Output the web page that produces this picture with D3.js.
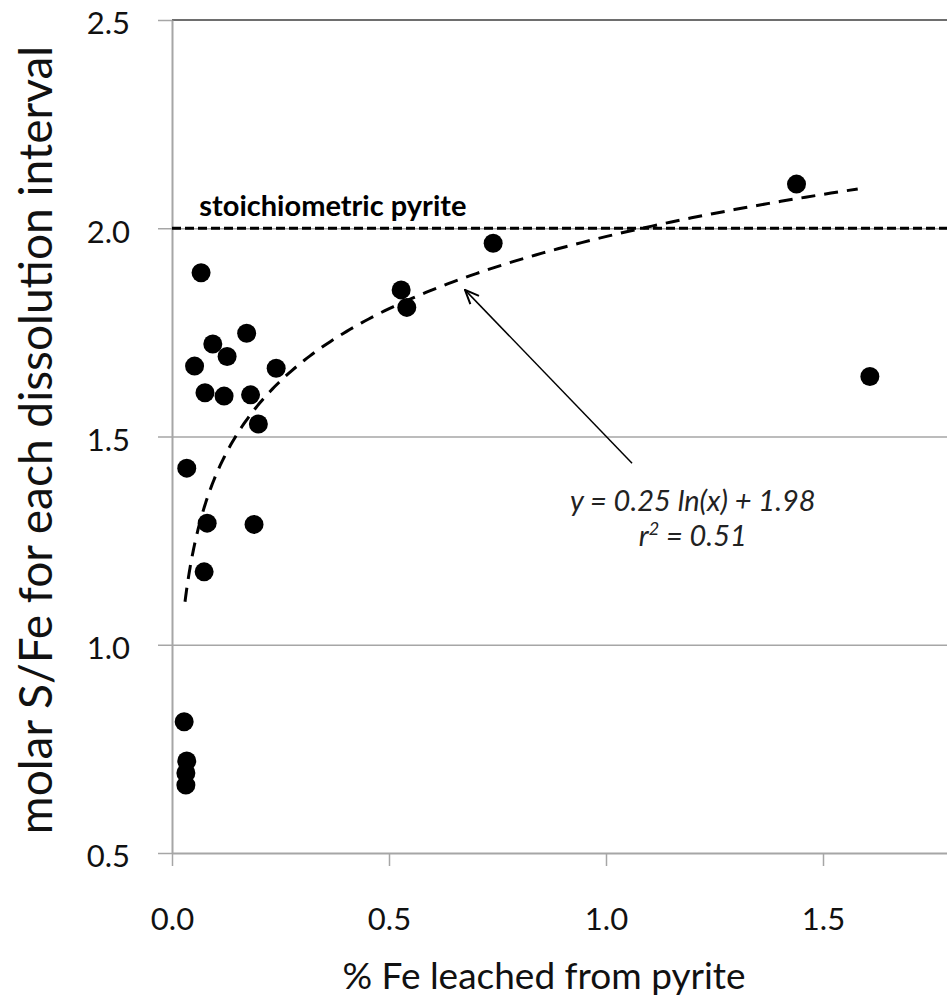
<!DOCTYPE html>
<html>
<head>
<meta charset="utf-8">
<script src="https://cdn.jsdelivr.net/npm/d3@7"></script>
<style>
  body { margin: 0; background: #fff; }
  svg { display: block; }
</style>
</head>
<body>
<div id="viz"></div>
<script>
// values
var feLeached = [0.028, 0.034, 0.032, 0.032, 0.067, 0.172, 0.094, 0.127, 0.052, 0.240,
                 0.076, 0.120, 0.181, 0.199, 0.034, 0.081, 0.189, 0.074, 0.528, 0.541,
                 0.740, 1.439, 1.608];
var sFeRatio  = [0.815, 0.721, 0.692, 0.663, 1.893, 1.748, 1.722, 1.692, 1.669, 1.664,
                 1.605, 1.597, 1.600, 1.530, 1.424, 1.292, 1.289, 1.175, 1.852, 1.810,
                 1.964, 2.106, 1.644];
var xTicks = [0.0, 0.5, 1.0, 1.5];
var yTicks = [0.5, 1.0, 1.5, 2.0, 2.5];
var gridTicks = [1.0, 1.5, 2.0];
var pyriteRatio = 2.0;
// log fit shown on the chart: y = 0.25 ln(x) + 1.98
var fitSlope = 0.25, fitIntercept = 1.98;
var fitFrom = 0.03, fitTo = 1.58;

// set the dimensions and margins of the graph
var margin = { top: 20, right: 0, bottom: 145, left: 172 },
    width = 868,
    height = 998 - margin.top - margin.bottom;

var svg = d3.select("#viz")
    .append("svg")
    .attr("width", 947)
    .attr("height", 998)
    .style("overflow", "hidden")
    .append("g")
    .attr("transform", "translate(" + margin.left + "," + margin.top + ")");

var x = d3.scaleLinear().domain([0, 2]).range([0, width]);
var y = d3.scaleLinear().domain([0.5, 2.5]).range([height, 0]);

var fontMain = "Lato, 'Open Sans', sans-serif";

// horizontal gridlines
svg.append("g")
    .call(d3.axisLeft(y).tickValues(gridTicks).tickSize(-width).tickFormat(""))
    .call(function (g) { g.select(".domain").remove(); })
    .selectAll("line")
    .attr("stroke", "#a6a6a6")
    .attr("stroke-width", 1.5);

// top border
svg.append("line")
    .attr("x1", 0).attr("x2", width)
    .attr("y1", y(2.5)).attr("y2", y(2.5))
    .attr("stroke", "#6e6e6e")
    .attr("stroke-width", 2);

// Y axis
var yAxis = svg.append("g")
    .call(d3.axisLeft(y).tickValues(yTicks).tickSize(14).tickSizeOuter(0).tickPadding(28)
        .tickFormat(d3.format(".1f")));
yAxis.select(".domain").attr("stroke", "#a6a6a6").attr("stroke-width", 2);
yAxis.selectAll("line").attr("stroke", "#a6a6a6").attr("stroke-width", 1.5);
yAxis.selectAll("text")
    .attr("dy", "0.45em")
    .style("font-family", fontMain)
    .style("font-size", "31px")
    .attr("fill", "#111");

// X axis
var xAxis = svg.append("g")
    .attr("transform", "translate(0," + height + ")")
    .call(d3.axisBottom(x).tickValues(xTicks).tickSize(13).tickSizeOuter(0).tickPadding(42)
        .tickFormat(d3.format(".1f")));
xAxis.select(".domain").attr("stroke", "#a6a6a6").attr("stroke-width", 2);
xAxis.selectAll("line").attr("stroke", "#a6a6a6").attr("stroke-width", 1.5);
xAxis.selectAll("text")
    .style("font-family", fontMain)
    .style("font-size", "31px")
    .attr("fill", "#111");

// X axis label
svg.append("text")
    .attr("text-anchor", "middle")
    .attr("x", 544 - margin.left)
    .attr("y", height + 136)
    .style("font-family", fontMain)
    .style("font-size", "37px")
    .attr("fill", "#111")
    .text("% Fe leached from pyrite");

// Y axis label
svg.append("text")
    .attr("text-anchor", "middle")
    .attr("transform", "rotate(-90)")
    .attr("x", -(440 - margin.top))
    .attr("y", -margin.left + 52)
    .style("font-family", fontMain)
    .style("font-size", "46px")
    .attr("fill", "#111")
    .text("molar S/Fe for each dissolution interval");

// stoichiometric pyrite line
svg.append("line")
    .attr("x1", 0).attr("x2", width)
    .attr("y1", y(pyriteRatio)).attr("y2", y(pyriteRatio))
    .attr("stroke", "#000")
    .attr("stroke-width", 3)
    .attr("stroke-dasharray", "9,4");

svg.append("text")
    .attr("x", x(0.063))
    .attr("y", y(pyriteRatio) - 12)
    .style("font-family", fontMain)
    .style("font-size", "29px")
    .style("font-weight", "bold")
    .attr("fill", "#000")
    .text("stoichiometric pyrite");

// log trend line
var fitPts = d3.range(0, 201).map(function (i) {
    var xv = fitFrom * Math.pow(fitTo / fitFrom, i / 200);
    return [xv, fitSlope * Math.log(xv) + fitIntercept];
});
svg.append("path")
    .datum(fitPts)
    .attr("fill", "none")
    .attr("stroke", "#000")
    .attr("stroke-width", 3)
    .attr("stroke-dasharray", "14,9")
    .attr("d", d3.line()
        .x(function (d) { return x(d[0]); })
        .y(function (d) { return y(d[1]); }));

// the points
svg.selectAll("circle.pt")
    .data(feLeached)
    .enter()
    .append("circle")
    .attr("class", "pt")
    .attr("cx", function (d) { return x(d); })
    .attr("cy", function (d, i) { return y(sFeRatio[i]); })
    .attr("r", 9.5)
    .attr("fill", "#000");

// arrow to the trend line
var arrowTip = [0.675, 1.852], arrowTail = [1.06, 1.436];
svg.append("defs").append("marker")
    .attr("id", "head")
    .attr("viewBox", "0 0 16 16")
    .attr("refX", 15).attr("refY", 8)
    .attr("markerWidth", 16).attr("markerHeight", 16)
    .attr("markerUnits", "userSpaceOnUse")
    .attr("orient", "auto-start-reverse")
    .append("path")
    .attr("d", "M1,2 L15,8 L1,14")
    .attr("fill", "none")
    .attr("stroke", "#000")
    .attr("stroke-width", 2);

svg.append("line")
    .attr("x1", x(arrowTip[0])).attr("y1", y(arrowTip[1]))
    .attr("x2", x(arrowTail[0])).attr("y2", y(arrowTail[1]))
    .attr("stroke", "#000")
    .attr("stroke-width", 1.5)
    .attr("marker-start", "url(#head)");

// equation label
svg.append("text")
    .attr("text-anchor", "middle")
    .attr("x", x(1.2))
    .attr("y", y(1.32))
    .style("font-family", fontMain)
    .style("font-size", "29px")
    .style("font-style", "italic")
    .attr("fill", "#222")
    .text("y = 0.25 ln(x) + 1.98");

var r2 = svg.append("text")
    .attr("text-anchor", "middle")
    .attr("x", x(1.2))
    .attr("y", y(1.32) + 35)
    .style("font-family", fontMain)
    .style("font-size", "29px")
    .style("font-style", "italic")
    .attr("fill", "#222");
r2.append("tspan").text("r");
r2.append("tspan").attr("dy", -11).style("font-size", "18px").text("2");
r2.append("tspan").attr("dy", 11).text(" = 0.51");
</script>
</body>
</html>
